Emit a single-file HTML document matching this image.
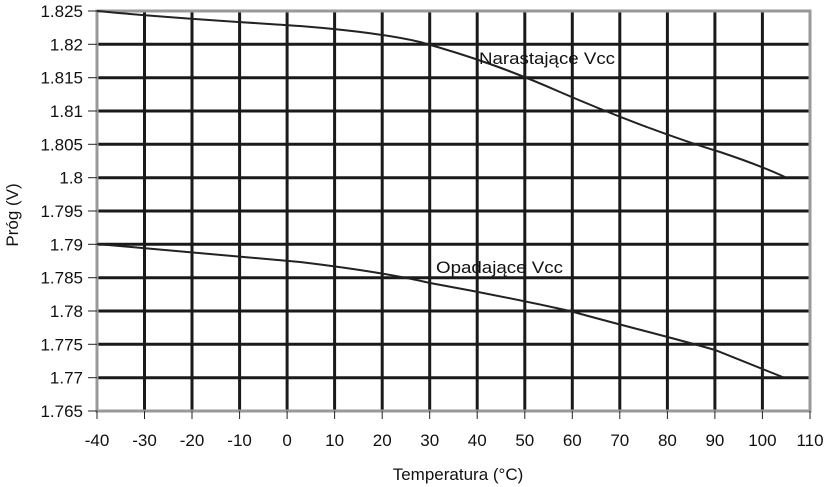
<!DOCTYPE html>
<html><head><style>body{margin:0;background:#fff}svg{display:block}text{font-family:"Liberation Sans",Arial,sans-serif;fill:#111}</style></head>
<body>
<svg width="828" height="487" viewBox="0 0 828 487">
<g stroke="#1a1a1a" stroke-width="3">
<line x1="144.5" y1="11" x2="144.5" y2="411"/><line x1="192" y1="11" x2="192" y2="411"/><line x1="239.6" y1="11" x2="239.6" y2="411"/><line x1="287.1" y1="11" x2="287.1" y2="411"/><line x1="334.6" y1="11" x2="334.6" y2="411"/><line x1="382.2" y1="11" x2="382.2" y2="411"/><line x1="429.7" y1="11" x2="429.7" y2="411"/><line x1="477.2" y1="11" x2="477.2" y2="411"/><line x1="524.8" y1="11" x2="524.8" y2="411"/><line x1="572.3" y1="11" x2="572.3" y2="411"/><line x1="619.8" y1="11" x2="619.8" y2="411"/><line x1="667.4" y1="11" x2="667.4" y2="411"/><line x1="714.9" y1="11" x2="714.9" y2="411"/><line x1="762.4" y1="11" x2="762.4" y2="411"/>
<line x1="97" y1="44.3" x2="810" y2="44.3"/><line x1="97" y1="77.7" x2="810" y2="77.7"/><line x1="97" y1="111" x2="810" y2="111"/><line x1="97" y1="144.3" x2="810" y2="144.3"/><line x1="97" y1="177.7" x2="810" y2="177.7"/><line x1="97" y1="211" x2="810" y2="211"/><line x1="97" y1="244.3" x2="810" y2="244.3"/><line x1="97" y1="277.7" x2="810" y2="277.7"/><line x1="97" y1="311" x2="810" y2="311"/><line x1="97" y1="344.3" x2="810" y2="344.3"/><line x1="97" y1="377.7" x2="810" y2="377.7"/>
</g>
<rect x="97" y="11" width="713" height="400" fill="none" stroke="#999" stroke-width="3"/>
<g stroke="#222" stroke-width="1">
<line x1="88" y1="11" x2="97" y2="11"/><line x1="88" y1="44.3" x2="97" y2="44.3"/><line x1="88" y1="77.7" x2="97" y2="77.7"/><line x1="88" y1="111" x2="97" y2="111"/><line x1="88" y1="144.3" x2="97" y2="144.3"/><line x1="88" y1="177.7" x2="97" y2="177.7"/><line x1="88" y1="211" x2="97" y2="211"/><line x1="88" y1="244.3" x2="97" y2="244.3"/><line x1="88" y1="277.7" x2="97" y2="277.7"/><line x1="88" y1="311" x2="97" y2="311"/><line x1="88" y1="344.3" x2="97" y2="344.3"/><line x1="88" y1="377.7" x2="97" y2="377.7"/><line x1="88" y1="411" x2="97" y2="411"/>
<line x1="97" y1="411" x2="97" y2="419"/><line x1="144.5" y1="411" x2="144.5" y2="419"/><line x1="192" y1="411" x2="192" y2="419"/><line x1="239.6" y1="411" x2="239.6" y2="419"/><line x1="287.1" y1="411" x2="287.1" y2="419"/><line x1="334.6" y1="411" x2="334.6" y2="419"/><line x1="382.2" y1="411" x2="382.2" y2="419"/><line x1="429.7" y1="411" x2="429.7" y2="419"/><line x1="477.2" y1="411" x2="477.2" y2="419"/><line x1="524.8" y1="411" x2="524.8" y2="419"/><line x1="572.3" y1="411" x2="572.3" y2="419"/><line x1="619.8" y1="411" x2="619.8" y2="419"/><line x1="667.4" y1="411" x2="667.4" y2="419"/><line x1="714.9" y1="411" x2="714.9" y2="419"/><line x1="762.4" y1="411" x2="762.4" y2="419"/><line x1="810" y1="411" x2="810" y2="419"/>
</g>
<g fill="none" stroke="#222" stroke-width="2">
<path d="M97,11 C170,18 240,22 300,26 C350,30 390,35 420,42 C470,56 510,70 560,92 C620,118 680,140 720,152 C750,162 770,170 785,177"/>
<path d="M97,244 C170,250 240,257 300,262 C350,268 400,276 430,283 C480,292 520,300 570,311 C620,325 670,337 715,350 C750,364 770,372 785,378"/>
</g>
<g font-size="17" text-anchor="end">
<text x="83" y="17">1.825</text><text x="83" y="50.3">1.82</text><text x="83" y="83.7">1.815</text><text x="83" y="117">1.81</text><text x="83" y="150.3">1.805</text><text x="83" y="183.7">1.8</text><text x="83" y="217">1.795</text><text x="83" y="250.3">1.79</text><text x="83" y="283.7">1.785</text><text x="83" y="317">1.78</text><text x="83" y="350.3">1.775</text><text x="83" y="383.7">1.77</text><text x="83" y="417">1.765</text>
</g>
<g font-size="17" text-anchor="middle">
<text x="97" y="446">-40</text><text x="144.5" y="446">-30</text><text x="192" y="446">-20</text><text x="239.6" y="446">-10</text><text x="287.1" y="446">0</text><text x="334.6" y="446">10</text><text x="382.2" y="446">20</text><text x="429.7" y="446">30</text><text x="477.2" y="446">40</text><text x="524.8" y="446">50</text><text x="572.3" y="446">60</text><text x="619.8" y="446">70</text><text x="667.4" y="446">80</text><text x="714.9" y="446">90</text><text x="762.4" y="446">100</text><text x="810" y="446">110</text>
<text x="458" y="480">Temperatura (°C)</text>
<text transform="translate(18,215) rotate(-90)">Próg (V)</text>
</g>
<text x="479" y="64" font-size="17" textLength="136" lengthAdjust="spacingAndGlyphs">Narastające Vcc</text>
<text x="436" y="273" font-size="17" textLength="127" lengthAdjust="spacingAndGlyphs">Opadające Vcc</text>
</svg>
</body></html>
